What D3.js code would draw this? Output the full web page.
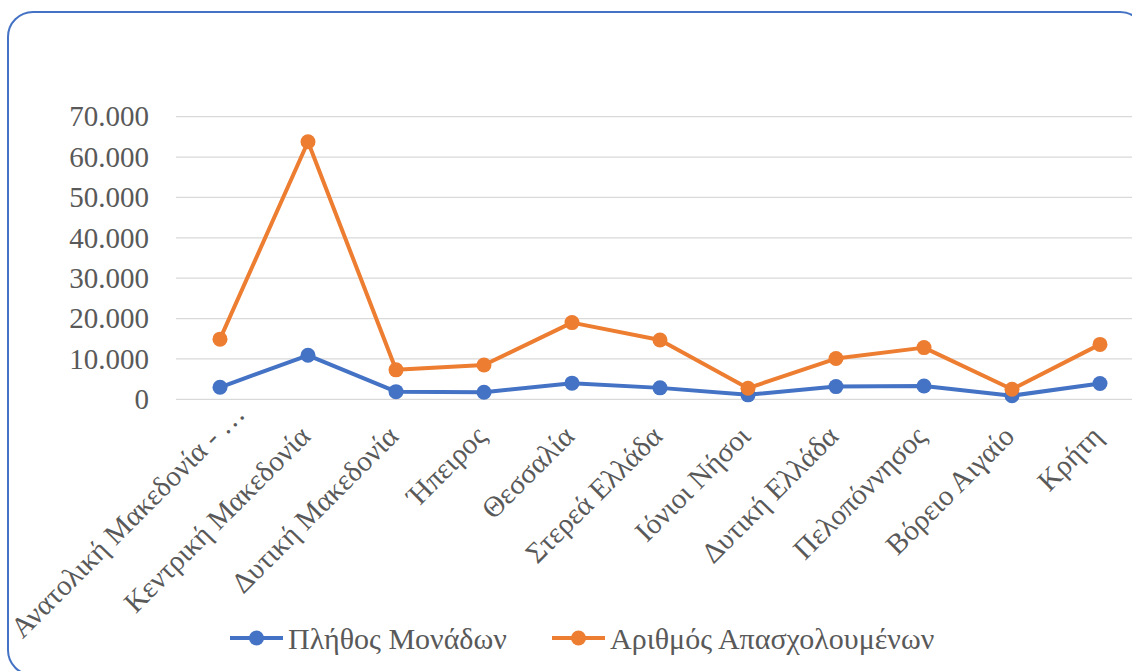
<!DOCTYPE html>
<html lang="el">
<head>
<meta charset="utf-8">
<script src="https://cdn.jsdelivr.net/npm/d3@7"></script>
<style>
  html, body { margin: 0; padding: 0; background: #ffffff; }
  svg { display: block; }
  text { font-family: "Liberation Serif", "Times New Roman", serif; fill: #595959; }
</style>
</head>
<body>
<svg id="chart" width="1132" height="671"></svg>
<script>
// Regions (x-axis categories)
const regions = [
  "Ανατολική Μακεδονία - Θράκη",
  "Κεντρική Μακεδονία",
  "Δυτική Μακεδονία",
  "Ήπειρος",
  "Θεσσαλία",
  "Στερεά Ελλάδα",
  "Ιόνιοι Νήσοι",
  "Δυτική Ελλάδα",
  "Πελοπόννησος",
  "Βόρειο Αιγαίο",
  "Κρήτη"
];

// Number of units per region
const units = [2970, 10900, 1900, 1750, 4000, 2830, 1100, 3150, 3300, 900, 3900];

// Number of employees per region
const employees = [14900, 63800, 7300, 8500, 19000, 14700, 2750, 10100, 12800, 2500, 13600];

// Series names
const seriesNames = ["Πλήθος Μονάδων", "Αριθμός Απασχολουμένων"];

// Y-axis ticks
const yTicks = [0, 10000, 20000, 30000, 40000, 50000, 60000, 70000];

const colors = ["#4472C4", "#ED7D31"];
const textColor = "#595959";
const fontSize = 29;
const legendFontSize = 30;

const svg = d3.select("#chart");

// Greek number formatting: "." as thousands separator
const grLocale = d3.formatLocale({ decimal: ",", thousands: ".", grouping: [3], currency: ["", "€"] });
const fmt = grLocale.format(",d");

// Rounded frame around the chart
svg.append("rect")
  .attr("x", 8).attr("y", 12)
  .attr("width", 1137).attr("height", 663)
  .attr("rx", 25).attr("ry", 25)
  .attr("fill", "#ffffff")
  .attr("stroke", "#4472C4")
  .attr("stroke-width", 2);

const plotLeft = 176, plotRight = 1144;
const x = d3.scalePoint().domain(regions).range([plotLeft, plotRight]).padding(0.5);
const y = d3.scaleLinear().domain([0, 70000]).range([399.3, 116.7]);

// Horizontal gridlines
svg.append("g")
  .selectAll("line")
  .data(yTicks)
  .join("line")
  .attr("x1", plotLeft).attr("x2", plotRight)
  .attr("y1", d => y(d)).attr("y2", d => y(d))
  .attr("stroke", "#d9d9d9")
  .attr("stroke-width", 1.3);

// Y axis labels
const yAxis = d3.axisLeft(y).tickValues(yTicks).tickFormat(fmt).tickSize(0).tickPadding(0);
const yg = svg.append("g").attr("transform", "translate(149,0)").call(yAxis);
yg.select(".domain").remove();
yg.selectAll("text")
  .attr("font-size", fontSize)
  .attr("font-family", "'Liberation Serif', 'Times New Roman', serif")
  .attr("fill", textColor);

// Category labels, rotated -45°; long names are truncated with an ellipsis
const maxChars = 22;
const labelText = d => d.length > maxChars ? d.slice(0, 19) + " - …" : d;
svg.append("g")
  .selectAll("text")
  .data(regions)
  .join("text")
  .attr("transform", d => `translate(${x(d) + 4},438) rotate(-45)`)
  .attr("text-anchor", "end")
  .attr("dx", d => d.length > maxChars ? 32 : 0)
  .attr("font-size", fontSize)
  .text(labelText);

// Series lines and markers
const seriesData = [units, employees];
seriesData.forEach((vals, i) => {
  const pts = regions.map((r, j) => [x(r), y(vals[j])]);
  svg.append("path")
    .attr("d", d3.line()(pts))
    .attr("fill", "none")
    .attr("stroke", colors[i])
    .attr("stroke-width", 4)
    .attr("stroke-linejoin", "round");
  svg.append("g")
    .selectAll("circle")
    .data(pts)
    .join("circle")
    .attr("cx", d => d[0]).attr("cy", d => d[1])
    .attr("r", 7.5)
    .attr("fill", colors[i]);
});

// Legend
const legendY = 638;
const legendItems = [{ x: 230, name: seriesNames[0], c: colors[0] }, { x: 552, name: seriesNames[1], c: colors[1] }];
const lg = svg.append("g");
legendItems.forEach(it => {
  lg.append("line")
    .attr("x1", it.x).attr("x2", it.x + 53)
    .attr("y1", legendY).attr("y2", legendY)
    .attr("stroke", it.c).attr("stroke-width", 4);
  lg.append("circle")
    .attr("cx", it.x + 26.5).attr("cy", legendY).attr("r", 7.5)
    .attr("fill", it.c);
  lg.append("text")
    .attr("x", it.x + 58).attr("y", legendY)
    .attr("dy", "0.38em")
    .attr("font-size", legendFontSize)
    .text(it.name);
});
</script>
</body>
</html>
